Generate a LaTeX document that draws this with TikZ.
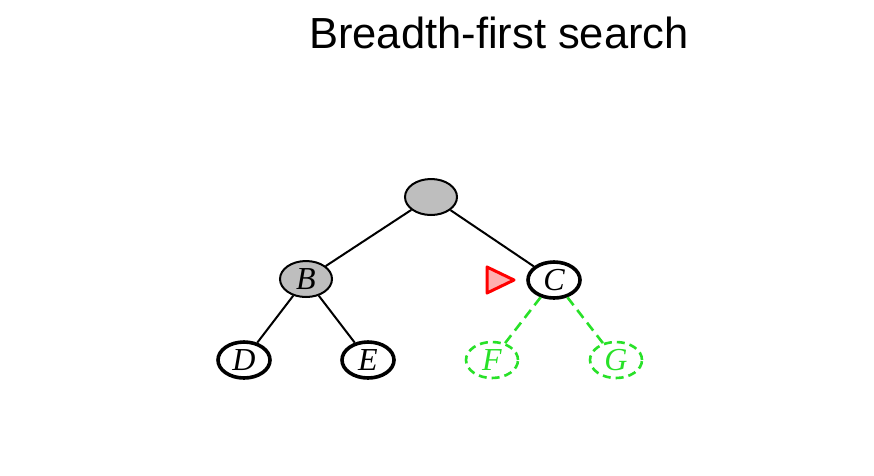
\documentclass[tikz,border=0pt]{standalone}
\usepackage{fontspec}
\setmainfont{Liberation Sans}
\newfontfamily\serifit{Liberation Serif}
\usetikzlibrary{shapes.geometric}
\definecolor{bfsgreen}{RGB}{40,225,40}
\definecolor{bfsgray}{RGB}{190,190,190}
\definecolor{trifill}{RGB}{255,175,175}
\begin{document}
\begin{tikzpicture}[x=1pt,y=-1pt,
  vert/.style={ellipse,minimum width=52pt,minimum height=36pt,inner sep=0pt,
    font=\fontsize{32}{32}\selectfont\serifit\itshape},
  seen/.style={vert,draw=black,line width=2pt,fill=bfsgray},
  front/.style={vert,draw=black,line width=3.6pt,fill=white},
  fresh/.style={vert,draw=bfsgreen,line width=2.6pt,dash pattern=on 8pt off 5pt,text=bfsgreen},
  edge/.style={draw=black,line width=2pt},
  newedge/.style={draw=bfsgreen,line width=2.6pt,dash pattern=on 10pt off 6pt}]
\useasboundingbox (0,0) rectangle (874,475);
\fill[white] (0,0) rectangle (874,475);
\node[font=\fontsize{43.5}{43.5}\selectfont] (title) at (499,33) {Breadth-first search};
\node[seen] (A) at (431,197) {};
\node[seen] (B) at (306,279) {B};
\node[front] (C) at (554,280) {C};
\node[front] (D) at (244,360) {D};
\node[front] (E) at (368,360) {E};
\node[fresh] (F) at (492,360) {F};
\node[fresh] (G) at (616,360) {G};
\draw[edge] (A) -- (B);
\draw[edge] (A) -- (C);
\draw[edge] (B) -- (D);
\draw[edge] (B) -- (E);
\draw[newedge] (C) -- (F);
\draw[newedge] (C) -- (G);
\coordinate (ptr) at (500,280);
\draw[red,line width=3pt,fill=trifill,line join=round]
  ([shift={(-13,-13)}]ptr) -- ([shift={(14,0)}]ptr) -- ([shift={(-13,13)}]ptr) -- cycle;
\end{tikzpicture}
\end{document}
